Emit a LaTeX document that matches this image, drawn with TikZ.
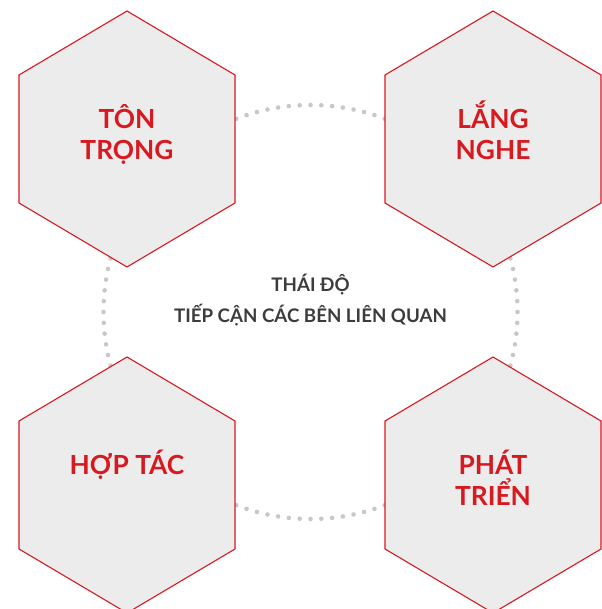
\documentclass[tikz,border=0pt]{standalone}
\usepackage{fontspec}
\setmainfont{Lato}
\definecolor{hexred}{RGB}{215, 25, 32}
\definecolor{hexgray}{RGB}{236, 236, 236}
\definecolor{ringgray}{RGB}{200, 200, 200}
\definecolor{textgray}{RGB}{60, 60, 60}

\begin{document}
\begin{tikzpicture}[x=1pt, y=1pt,
    hexcell/.style={fill=hexgray, draw=hexred, line width=1.1pt},
    hexlabel/.style={anchor=base, align=center, text=hexred, font=\fontsize{26.3}{31}\selectfont\bfseries},
    ringdot/.style={fill=ringgray}]
    \useasboundingbox (0,0) rectangle (601,609);
    % dotted ring behind the cells
    \coordinate (ring) at (310.5,297);
    \foreach \a in {0,3,...,357}
        \fill[ringdot] (ring) ++(\a:207) circle (2.3);
    % four cells
    \coordinate (respect) at (127,470);
    \coordinate (listen) at (493,470);
    \coordinate (cooperate) at (127,124);
    \coordinate (develop) at (493,124);
    \foreach \c in {respect, listen, cooperate, develop}
        \draw[hexcell] (\c) +(0,128) -- +(108,64) -- +(108,-64) -- +(0,-128) -- +(-108,-64) -- +(-108,64) -- cycle;
    % base = last line, so two-line labels sit one line lower
    \node[hexlabel] (respectText) at ([yshift=-21]respect) {TÔN\\TRỌNG};
    \node[hexlabel] (listenText) at ([yshift=-21]listen) {LẮNG\\NGHE};
    \node[hexlabel] (cooperateText) at ([yshift=10]cooperate) {HỢP TÁC};
    \node[hexlabel] (developText) at ([yshift=-21]develop) {PHÁT\\TRIỂN};
    % centre caption
    \node[anchor=base, align=center, text=textgray, font=\fontsize{18.7}{31}\selectfont\bfseries] (attitude) at (310.5,286.3) {THÁI ĐỘ\\TIẾP CẬN CÁC BÊN LIÊN QUAN};
\end{tikzpicture}
\end{document}
